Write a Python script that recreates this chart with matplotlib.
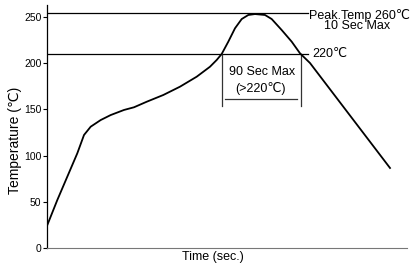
import matplotlib
matplotlib.use('Agg')
import matplotlib.pyplot as plt

plt.rcParams['font.family'] = ['Liberation Sans', 'DejaVu Sans']
plt.rcParams['font.size'] = 8

# reflow profile (time in arbitrary units, temp in C)
time = [0, 10.3, 20.3, 30.3, 37, 43.7, 53.7, 63.7, 77, 87, 99.7, 116.3, 133,
        149.7, 163, 169.7, 174.7, 181.3, 188, 194.7, 201.3, 208, 218, 224.7,
        234.7, 244.7, 253, 263, 343]
temp = [24, 51.9, 77.2, 102.5, 122.3, 131.3, 138.5, 143.9, 149.4, 152.3,
        158.3, 165.6, 174.6, 185.4, 196.2, 203.5, 210, 223.3, 237.8, 247.8,
        252.2, 253.2, 252.2, 247.8, 235.9, 223.3, 210.7, 200.2, 86.6]

peak_level = 254
liquidus_level = 209.6
window_start, window_end = 174.7, 254
yticks = [0, 50, 100, 150, 200, 250]

fig = plt.figure(figsize=(4.11, 2.68), dpi=100)
ax = fig.add_axes([47/411, 20/268, 360/411, 243/268])

ax.plot(time, temp, color='black', lw=1.3, solid_joinstyle='round', zorder=3)

ax.plot([0, 261], [peak_level, peak_level], color='black', lw=0.9)
ax.plot([0, 261], [liquidus_level, liquidus_level], color='black', lw=0.9)
ax.plot([window_start, window_start], [liquidus_level, 153.7], color='#333333', lw=0.9)
ax.plot([window_end, window_end], [liquidus_level, 153.7], color='#333333', lw=0.9)
ax.plot([178, 250], [161.3, 161.3], color='#333333', lw=0.9)

ax.text(262, 252, 'Peak.Temp 260\u2103', ha='left', va='center', fontsize=9)
ax.text(310, 240, '10 Sec Max', ha='center', va='center', fontsize=9)
ax.text(265, 210, '220\u2103', ha='left', va='center', fontsize=9)
ax.text(215, 190, '90 Sec Max', ha='center', va='center', fontsize=9)
ax.text(213, 173, '(>220\u2103)', ha='center', va='center', fontsize=9)

ax.set_xlim(0, 360)
ax.set_ylim(0, 263)
ax.set_xticks([])
ax.set_yticks(yticks)
ax.tick_params(axis='y', length=3, width=0.8, pad=1, labelsize=7.5)
ax.spines['top'].set_visible(False)
ax.spines['right'].set_visible(False)
ax.spines['bottom'].set_color('#777777')
ax.spines['left'].set_linewidth(0.9)

fig.text(15/411, 1 - 140/268, 'Temperature (\u2103)', rotation=90,
         ha='center', va='center', fontsize=10)
ax.text(166, -3, 'Time (sec.)', ha='center', va='top', fontsize=9)

fig.savefig('out.png', dpi=100)
